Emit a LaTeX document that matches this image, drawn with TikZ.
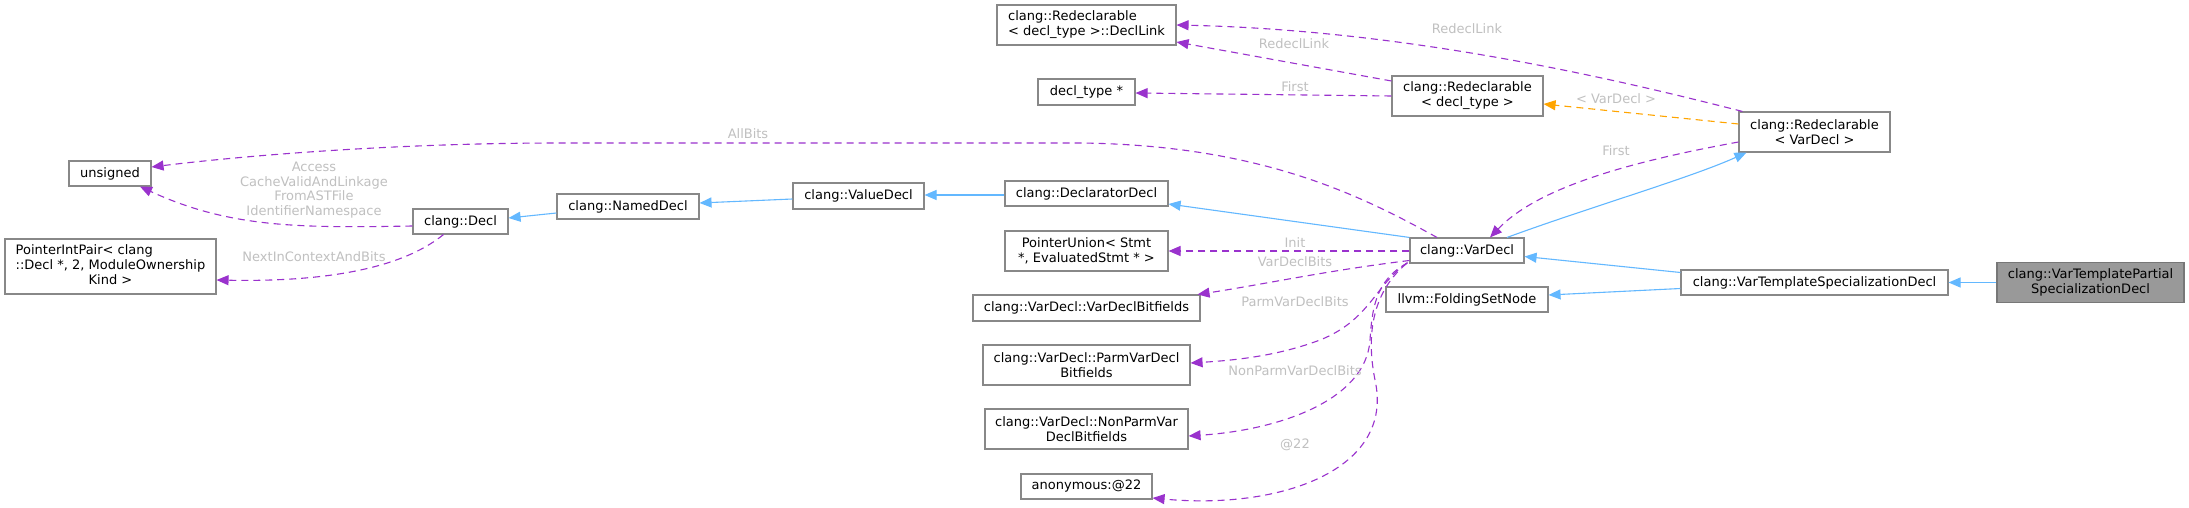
\documentclass[tikz,border=0pt]{standalone}
\usepackage{fontspec}
\setmainfont{DejaVu Sans}
\usetikzlibrary{arrows.meta,calc}
\definecolor{inhblue}{HTML}{63B8FF}
\definecolor{usepurple}{HTML}{9A32CD}
\definecolor{tmplorange}{HTML}{FFA500}
\definecolor{lblgray}{HTML}{C0C0C0}
\definecolor{boxgray}{HTML}{888888}
\definecolor{mainfill}{HTML}{999999}
\definecolor{mainborder}{HTML}{777777}
\begin{document}
\begin{tikzpicture}[x=1pt,y=-1pt,
  box/.style={draw=boxgray, fill=white, line width=1.1pt, inner sep=0pt, font=\fontsize{13}{15}\selectfont, align=center, text=black},
  inh/.style={draw=inhblue, line width=1.1pt, -{Triangle[length=12pt,width=10pt]}},
  use/.style={draw=usepurple, line width=1.1pt, dash pattern=on 7pt off 5pt, -{Triangle[length=12pt,width=10pt]}},
  tmpl/.style={draw=tmplorange, line width=1.1pt, dash pattern=on 7pt off 5pt, -{Triangle[length=12pt,width=10pt]}},
  lbl/.style={text=lblgray, font=\fontsize{13}{14.7}\selectfont, inner sep=0pt, align=center}]
\useasboundingbox (0,0) rectangle (2189,508);
\fill[white] (0,0) rectangle (2189,508);

% nodes
\node[box, minimum width=179pt, minimum height=40pt, align=left] (decllink) at (1086.5,25) {clang::Redeclarable\\< decl\_type >::DeclLink};
\node[box, minimum width=97pt, minimum height=26pt] (decltype) at (1086.5,92) {decl\_type *};
\node[box, minimum width=151pt, minimum height=40pt] (redecldt) at (1467.5,96) {clang::Redeclarable\\< decl\_type >};
\node[box, minimum width=151pt, minimum height=40pt] (redeclvd) at (1814.5,132) {clang::Redeclarable\\< VarDecl >};
\node[box, minimum width=82pt, minimum height=25pt] (unsigned) at (110,173.5) {unsigned};
\node[box, minimum width=95pt, minimum height=25pt] (decl) at (460.5,221.5) {clang::Decl};
\node[box, minimum width=211pt, minimum height=55pt] (pip) at (110.5,266.5) {\begin{tabular}{@{}l@{}}PointerIntPair< clang\\::Decl *, 2, ModuleOwnership\\\multicolumn{1}{@{}c@{}}{Kind >}\end{tabular}};
\node[box, minimum width=142pt, minimum height=25pt] (named) at (628,206.5) {clang::NamedDecl};
\node[box, minimum width=131pt, minimum height=26pt] (value) at (858.5,196) {clang::ValueDecl};
\node[box, minimum width=163pt, minimum height=25pt] (declarator) at (1086.5,193.5) {clang::DeclaratorDecl};
\node[box, minimum width=163pt, minimum height=40pt] (ptrunion) at (1086.5,251) {PointerUnion< Stmt\\*, EvaluatedStmt * >};
\node[box, minimum width=227pt, minimum height=26pt] (vdbf) at (1086.5,308) {clang::VarDecl::VarDeclBitfields};
\node[box, minimum width=207pt, minimum height=40pt] (pvdbf) at (1086.5,365) {clang::VarDecl::ParmVarDecl\\Bitfields};
\node[box, minimum width=203pt, minimum height=40pt] (npvdbf) at (1086.5,429) {clang::VarDecl::NonParmVar\\DeclBitfields};
\node[box, minimum width=131pt, minimum height=25pt] (anon) at (1086.5,486.5) {anonymous:@22};
\node[box, minimum width=114pt, minimum height=25pt] (vardecl) at (1467,250.5) {clang::VarDecl};
\node[box, minimum width=162pt, minimum height=25pt] (fsn) at (1467,299.5) {llvm::FoldingSetNode};
\node[box, minimum width=267pt, minimum height=25pt] (vts) at (1814.5,282.5) {clang::VarTemplateSpecializationDecl};
\node[box, fill=mainfill, draw=mainborder, minimum width=187pt, minimum height=40pt] (vtpsd) at (2090.5,282.5) {clang::VarTemplatePartial\\SpecializationDecl};

% inheritance
\draw[inh] ($(named.west)+(0,6.5)$) -- ($(decl.east)+(0,-3.5)$);
\draw[inh] ($(value.west)+(0,3)$) -- ($(named.east)+(0,-3.5)$);
\draw[inh] ($(declarator.west)+(0,1.5)$) -- ($(value.east)+(0,-1)$);
\draw[inh] (vardecl.north west) -- ($(declarator.east)+(0,10.5)$);
\draw[inh] ($(vardecl.north)+(40,0)$) .. controls (1590,207) and (1690,178) .. ($(redeclvd.south west)+(8,0)$);
\draw[inh] ($(vts.west)+(0,-10)$) -- ($(vardecl.east)+(0,6)$);
\draw[inh] ($(vts.west)+(0,6)$) -- ($(fsn.east)+(0,-4.5)$);
\draw[inh] (vtpsd.west) -- (vts.east);

% usage
\draw[use] ($(redecldt.west)+(0,-15)$) -- ($(decllink.east)+(0,17)$) node[lbl, at={(1294,44)}] {RedeclLink};
\draw[use] ($(redeclvd.north west)+(4,0)$) .. controls (1600,75) and (1400,30) .. (decllink.east) node[lbl, at={(1467,29)}] {RedeclLink};
\draw[use] (redecldt.west) -- ($(decltype.east)+(0,1)$) node[lbl, at={(1295,87)}] {First};
\draw[tmpl] ($(redeclvd.west)+(0,-8)$) -- ($(redecldt.east)+(0,8)$) node[lbl, at={(1616,99)}] {< VarDecl >};
\draw[use] ($(redeclvd.west)+(0,10)$) .. controls (1640,160) and (1540,185) .. ($(vardecl.north)+(23,0)$) node[lbl, at={(1616,151)}] {First};
\draw[use] ($(vardecl.north)+(-30,0)$) .. controls (1360,195) and (1260,145) .. (1080,143) -- (560,143) .. controls (400,143) and (250,155) .. ($(unsigned.east)+(0,-6.5)$) node[lbl, at={(748,134)}] {AllBits};
\draw[use] ($(decl.west)+(0,4.5)$) .. controls (300,228) and (230,228) .. ($(unsigned.south)+(30,0)$) node[lbl, at={(314,190)}] {Access\\CacheValidAndLinkage\\FromASTFile\\IdentifierNamespace};
\draw[use] ($(decl.south)+(-17,0)$) .. controls (400,270) and (320,282) .. ($(pip.east)+(0,13.5)$) node[lbl, at={(314,257)}] {NextInContextAndBits};
\draw[use] ($(vardecl.west)+(0,0.5)$) -- (ptrunion.east) node[lbl, at={(1295,243)}] {Init};
\draw[use] ($(vardecl.west)+(0,10)$) .. controls (1330,270) and (1260,285) .. ($(vdbf.north east)+(-3,0)$) node[lbl, at={(1295,262)}] {VarDeclBits};
\draw[use] ($(vardecl.south west)+(-2,-1)$) .. controls (1375,285) and (1370,320) .. (1320,340) .. controls (1280,355) and (1240,360) .. ($(pvdbf.east)+(0,-2)$) node[lbl, at={(1295,302)}] {ParmVarDeclBits};
\draw[use] ($(vardecl.south west)+(-2,-0.5)$) .. controls (1375,280) and (1372,310) .. (1370,340) .. controls (1366,400) and (1280,430) .. ($(npvdbf.east)+(0,7)$) node[lbl, at={(1295,371)}] {NonParmVarDeclBits};
\draw[use] ($(vardecl.south west)+(-3,0)$) .. controls (1375,290) and (1365,330) .. (1375,380) .. controls (1395,470) and (1280,510) .. ($(anon.east)+(0,11.5)$) node[lbl, at={(1295,445)}] {@22};
\end{tikzpicture}
\end{document}
